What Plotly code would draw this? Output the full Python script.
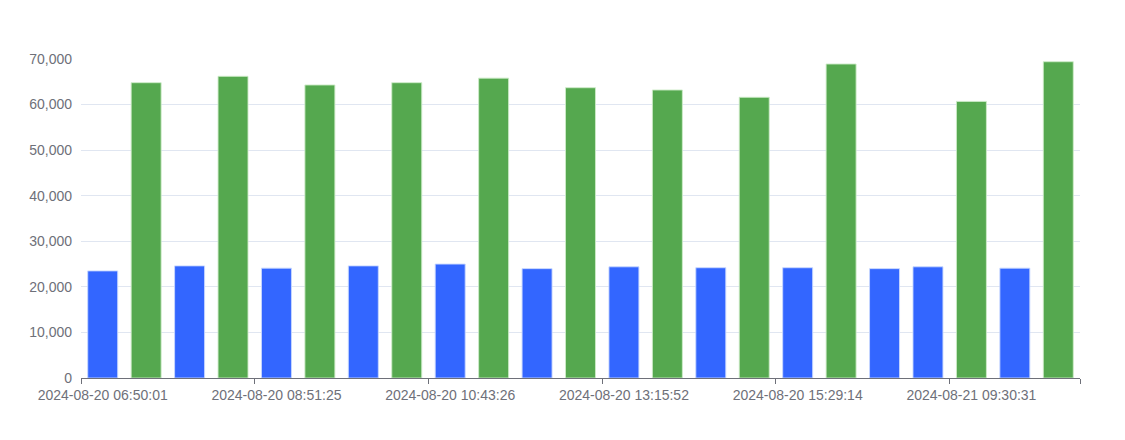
import plotly.graph_objects as go

# one timestamp per bar; only every 4th is shown on the axis
times = [
    "2024-08-20 06:50:01", "2024-08-20 07:21:12", "2024-08-20 07:49:40", "2024-08-20 08:20:03",
    "2024-08-20 08:51:25", "2024-08-20 09:18:47", "2024-08-20 09:46:10", "2024-08-20 10:14:58",
    "2024-08-20 10:43:26", "2024-08-20 11:20:31", "2024-08-20 11:58:09", "2024-08-20 12:37:44",
    "2024-08-20 13:15:52", "2024-08-20 13:49:18", "2024-08-20 14:22:06", "2024-08-20 14:55:37",
    "2024-08-20 15:29:14", "2024-08-20 16:02:49", "2024-08-20 16:35:20", "2024-08-21 08:47:55",
    "2024-08-21 09:30:31", "2024-08-21 10:04:12", "2024-08-21 10:41:03",
]
blue_vals = [23500, None, 24600, None, 24100, None, 24600, None, 25000, None, 24000, None,
             24400, None, 24200, None, 24200, None, 24000, 24400, None, 24100, None]
green_vals = [None, 64800, None, 66200, None, 64300, None, 64800, None, 65800, None, 63700,
              None, 63200, None, 61600, None, 68900, None, None, 60700, None, 69400]

idx = list(range(len(times)))
label_idx = idx[::4]

fig = go.Figure()
fig.add_trace(go.Bar(x=idx, y=blue_vals, name="blue", hovertext=times,
                     marker=dict(color="#3366FF", line=dict(color="rgba(200,215,255,0.9)", width=1))))
fig.add_trace(go.Bar(x=idx, y=green_vals, name="green", hovertext=times,
                     marker=dict(color="#55A84F", line=dict(color="rgba(205,235,200,0.9)", width=1))))

# the page body adds an 8px offset, margins compensate for it
fig.update_layout(
    width=1125, height=440,
    barmode="overlay", bargap=0.31,
    showlegend=False,
    plot_bgcolor="white", paper_bgcolor="white",
    margin=dict(l=73, r=53, t=51, b=70),
    font=dict(family="Liberation Sans, Arial, sans-serif", size=14, color="#6E7079"),
)
fig.update_xaxes(
    automargin=False,
    range=[-0.5, len(times) - 0.5],
    tickvals=label_idx, ticktext=[times[i] for i in label_idx],
    ticks="", ticklabelstandoff=4, showgrid=False, zeroline=False,
    showline=True, linecolor="#6E7079", linewidth=1,
    minor=dict(tickvals=[i - 0.5 for i in label_idx] + [len(times) - 0.5],
               ticks="outside", ticklen=5, tickcolor="#6E7079", showgrid=False),
)
fig.update_yaxes(
    automargin=False,
    range=[0, 70000], dtick=10000, tickformat=",",
    showgrid=True, gridcolor="#E0E6F1", zeroline=False,
    ticks="", ticklabelstandoff=8,
)

fig.write_html("out.html")
